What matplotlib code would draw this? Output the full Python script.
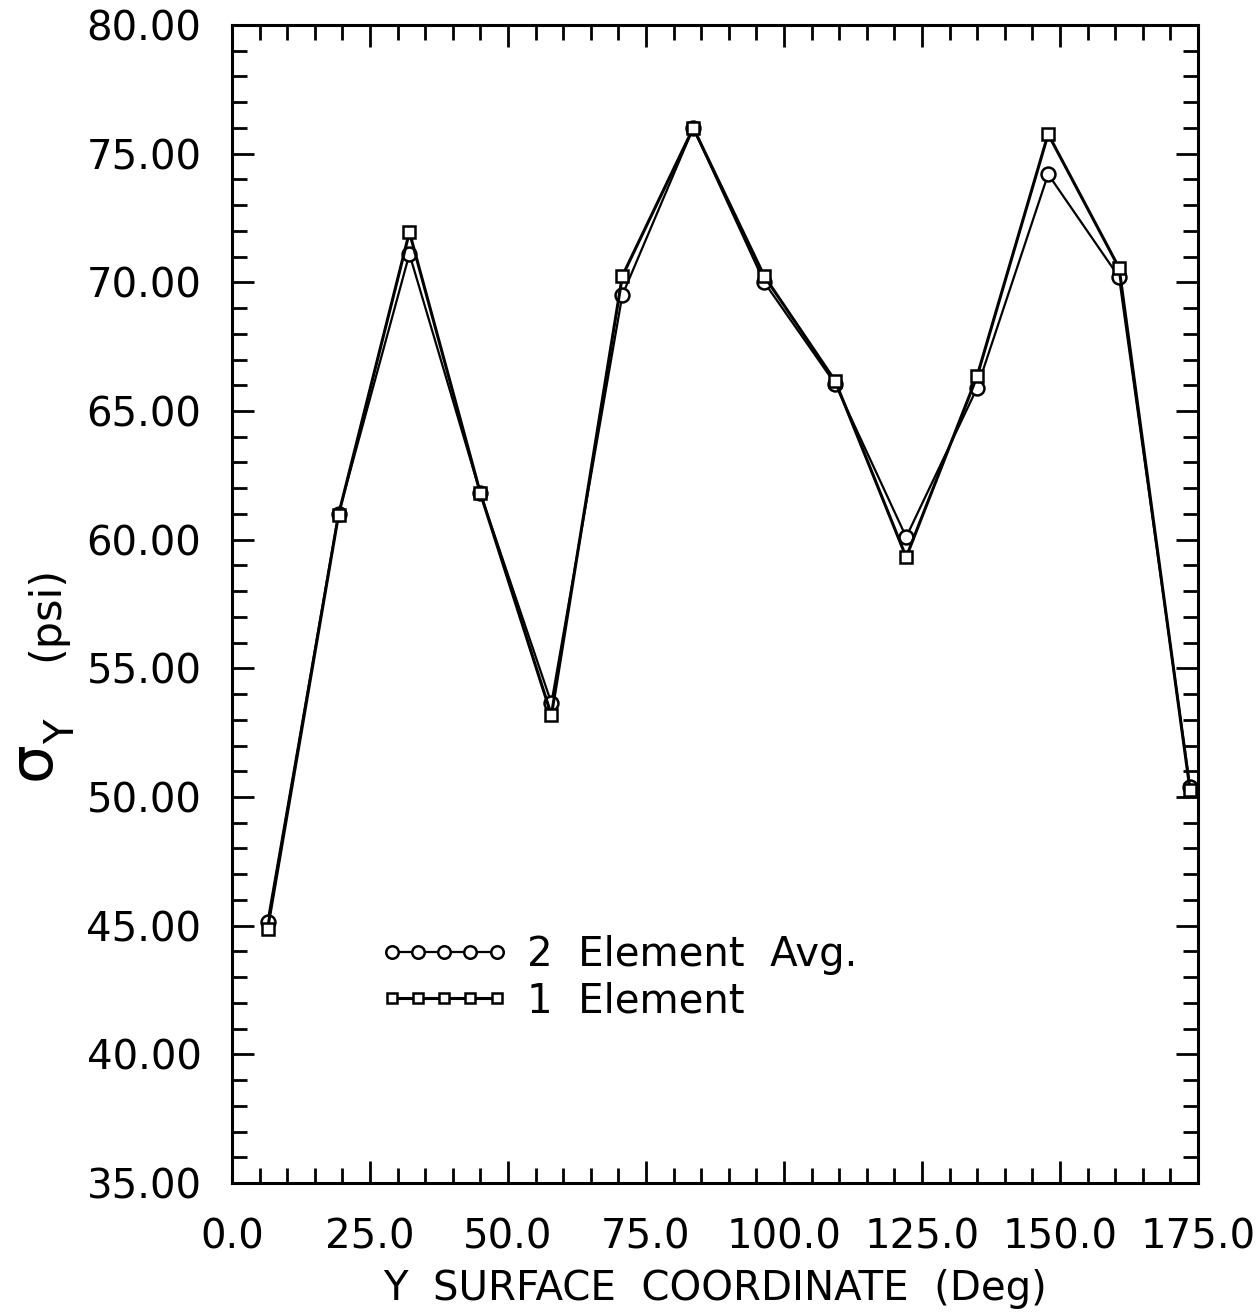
import numpy as np
import matplotlib
matplotlib.use('Agg')
import matplotlib.pyplot as plt
from matplotlib.ticker import MultipleLocator, FormatStrFormatter

# surface coordinate of each element centre (deg)
coord = [6.43, 19.29, 32.14, 45.0, 57.86, 70.71, 83.57,
         96.43, 109.29, 122.14, 135.0, 147.86, 160.71, 173.57]
# sigma_Y (psi)
avg2 = [45.14, 61.0, 71.1, 61.8, 53.65, 69.5, 76.0,
        70.0, 66.05, 60.1, 65.9, 74.2, 70.2, 50.38]
elem1 = [44.87, 60.96, 71.95, 61.8, 53.18, 70.24, 76.0,
         70.24, 66.16, 59.32, 66.36, 75.76, 70.56, 50.27]

plt.rcParams['font.family'] = 'DejaVu Sans'
fs = 29

fig = plt.figure(figsize=(12.59, 13.14), dpi=100)
ax = fig.add_axes([0.1843, 0.0997, 0.7672, 0.8813])

ax.plot(coord, avg2, color='black', lw=1.6, marker='o', ms=10,
        mfc='white', mec='black', mew=1.8, label='2  Element  Avg.')
ax.plot(coord, elem1, color='black', lw=2.2, marker='s', ms=8.5,
        mfc='white', mec='black', mew=1.8, label='1  Element')

ax.set_xlim(0, 175)
ax.set_ylim(35, 80)
ax.xaxis.set_major_locator(MultipleLocator(25))
ax.xaxis.set_minor_locator(MultipleLocator(5))
ax.yaxis.set_major_locator(MultipleLocator(5))
ax.yaxis.set_minor_locator(MultipleLocator(1))
ax.xaxis.set_major_formatter(FormatStrFormatter('%.1f'))
ax.yaxis.set_major_formatter(FormatStrFormatter('%.2f'))

ax.tick_params(which='both', direction='in', top=True, right=True,
               width=2, labelsize=fs, color='black')
ax.tick_params(which='major', length=16)
ax.tick_params(which='minor', length=11)
ax.tick_params(axis='x', which='major', pad=25)
ax.tick_params(axis='y', which='major', pad=22)
for s in ax.spines.values():
    s.set_linewidth(2.2)

ax.set_xlabel('Y  SURFACE  COORDINATE  (Deg)', fontsize=fs, labelpad=8)

# y label: large sigma, deep subscript Y, then units
fig.text(0.0265, 0.4208, 'σ', fontsize=44, rotation=90,
         ha='center', va='center')
fig.text(0.0500, 0.4429, 'Y', fontsize=29, rotation=90,
         ha='center', va='center')
fig.text(0.0370, 0.533, '(psi)', fontsize=31, rotation=90,
         ha='center', va='center')

ax.legend(loc='upper left', bbox_to_anchor=(0.153, 0.214), frameon=False,
          borderpad=0, borderaxespad=0,
          numpoints=5, handlelength=3.2, handletextpad=0.45, markerscale=0.9,
          labelspacing=0.15, fontsize=fs)

fig.savefig('out.png', dpi=100)
plt.close(fig)
